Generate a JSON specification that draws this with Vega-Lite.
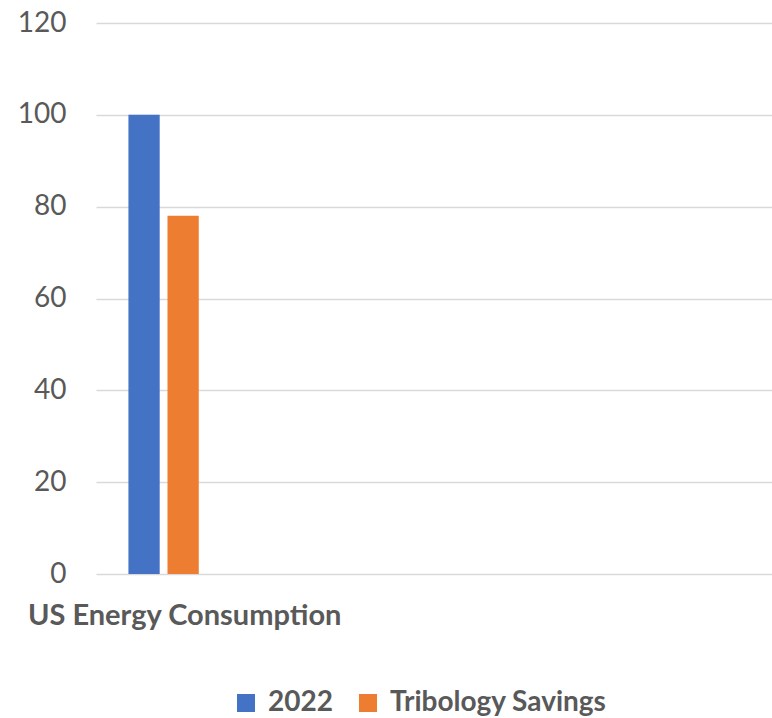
{
  "$schema": "https://vega.github.io/schema/vega-lite/v6.json",
  "width": 676,
  "height": 551,
  "padding": {"left": 96, "top": 23, "right": 0, "bottom": 144},
  "autosize": {"type": "none"},
  "background": "white",
  "config": {
    "font": "Lato",
    "view": {"stroke": null}
  },
  "data": {
    "values": [
      {"category": "US Energy Consumption", "series": "2022", "value": 100},
      {"category": "US Energy Consumption", "series": "Tribology Savings", "value": 78}
    ]
  },
  "mark": {"type": "bar"},
  "encoding": {
    "x": {
      "field": "category",
      "type": "nominal",
      "scale": {"paddingInner": 0, "paddingOuter": 1, "align": 0},
      "axis": {
        "title": null,
        "domain": false,
        "ticks": false,
        "labelAngle": 0,
        "labelFont": "Lato",
        "labelFontWeight": "bold",
        "labelFontSize": 29,
        "labelColor": "#595959",
        "labelPadding": 27,
        "labelOffset": -24,
        "labelLimit": 0
      }
    },
    "xOffset": {
      "field": "series",
      "type": "nominal",
      "scale": {"paddingInner": 0.2, "paddingOuter": 0.83, "range": [0, 135.2]}
    },
    "y": {
      "field": "value",
      "type": "quantitative",
      "scale": {"domain": [0, 120], "nice": false},
      "axis": {
        "title": null,
        "values": [0, 20, 40, 60, 80, 100, 120],
        "domain": false,
        "ticks": false,
        "grid": true,
        "gridColor": "#d9d9d9",
        "gridWidth": 1.5,
        "labelFont": "Lato",
        "labelFontSize": 28,
        "labelColor": "#595959",
        "labelPadding": 30
      }
    },
    "color": {
      "field": "series",
      "type": "nominal",
      "scale": {"domain": ["2022", "Tribology Savings"], "range": ["#4472C4", "#ED7D31"]},
      "legend": {
        "title": null,
        "orient": "none",
        "direction": "horizontal",
        "legendX": 136,
        "legendY": 666,
        "padding": 0,
        "symbolType": "square",
        "symbolSize": 324,
        "symbolStrokeWidth": 0,
        "labelFont": "Lato",
        "labelFontWeight": "bold",
        "labelFontSize": 28,
        "labelColor": "#595959",
        "labelOffset": 8,
        "columnPadding": 21,
        "labelLimit": 0
      }
    }
  }
}
